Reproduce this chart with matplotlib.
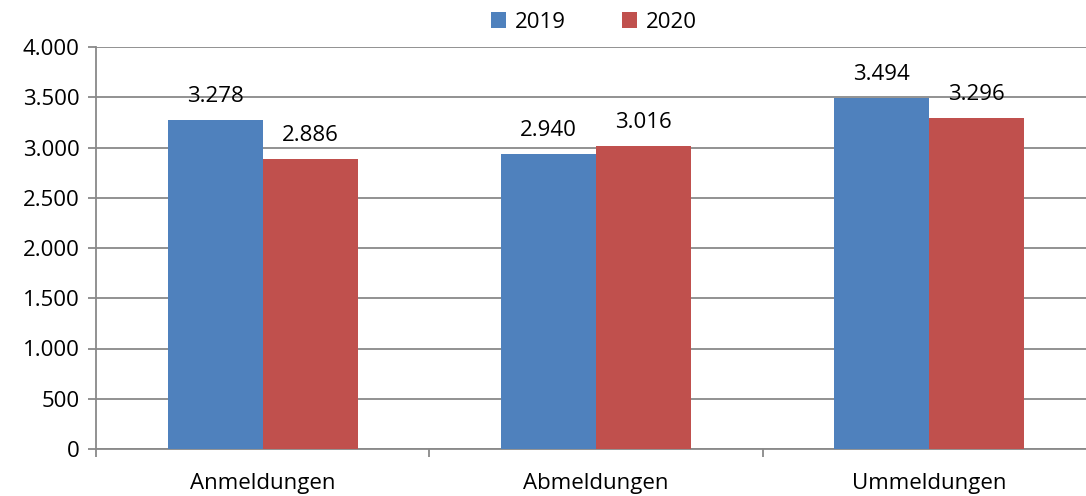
import numpy as np
import matplotlib.pyplot as plt
from matplotlib.ticker import FuncFormatter, FixedLocator

plt.rcParams['font.family'] = ['Open Sans', 'DejaVu Sans']

kategorien = ['Anmeldungen', 'Abmeldungen', 'Ummeldungen']
werte_2019 = [3278, 2940, 3494]
werte_2020 = [2886, 3016, 3296]
jahre = ['2019', '2020']
farben = ['#4F81BD', '#C0504D']

def tausender(v, pos=None):
    return f'{int(v):,}'.replace(',', '.')

fs = 16
fig = plt.figure(figsize=(10.86, 4.96), dpi=100)
ax = fig.add_axes([96/1086, 47/496, 1000/1086, 402/496])

x = np.arange(len(kategorien))
b = 0.285
for i, (werte, farbe, jahr) in enumerate(zip([werte_2019, werte_2020], farben, jahre)):
    pos = x + (i - 0.5) * b
    ax.bar(pos, werte, width=b, color=farbe, label=jahr, zorder=3)
    for px, w in zip(pos, werte):
        ax.annotate(tausender(w), (px, w), xytext=(0, 9), textcoords='offset points',
                    ha='center', va='bottom', fontsize=fs)

ax.set_xlim(-0.5, 2.5)
ax.set_ylim(0, 4000)
ax.set_yticks(np.arange(0, 4001, 500))
ax.yaxis.set_major_formatter(FuncFormatter(tausender))
ax.grid(axis='y', color='#898989', linewidth=1.3, zorder=0)
ax.tick_params(axis='y', labelsize=fs, length=6, width=1.3, color='#898989', pad=6)

ax.xaxis.set_major_locator(FixedLocator([-0.5, 0.5, 1.5, 2.5]))
ax.set_xticklabels([])
ax.xaxis.set_minor_locator(FixedLocator(x))
ax.set_xticklabels(kategorien, minor=True)
ax.tick_params(axis='x', which='major', length=6, width=1.3, color='#898989')
ax.tick_params(axis='x', which='minor', length=0, labelsize=fs, pad=17)

for s in ['top', 'right']:
    ax.spines[s].set_visible(False)
for s in ['left', 'bottom']:
    ax.spines[s].set_color('#898989')
    ax.spines[s].set_linewidth(1.3)

ax.legend(loc='center', bbox_to_anchor=(594/1086, 1 - 22/496), bbox_transform=fig.transFigure,
          ncol=2, frameon=False, fontsize=fs, handlelength=0.7, handleheight=0.7,
          columnspacing=2.5, handletextpad=0.4)

fig.savefig('out.png', dpi=100)
